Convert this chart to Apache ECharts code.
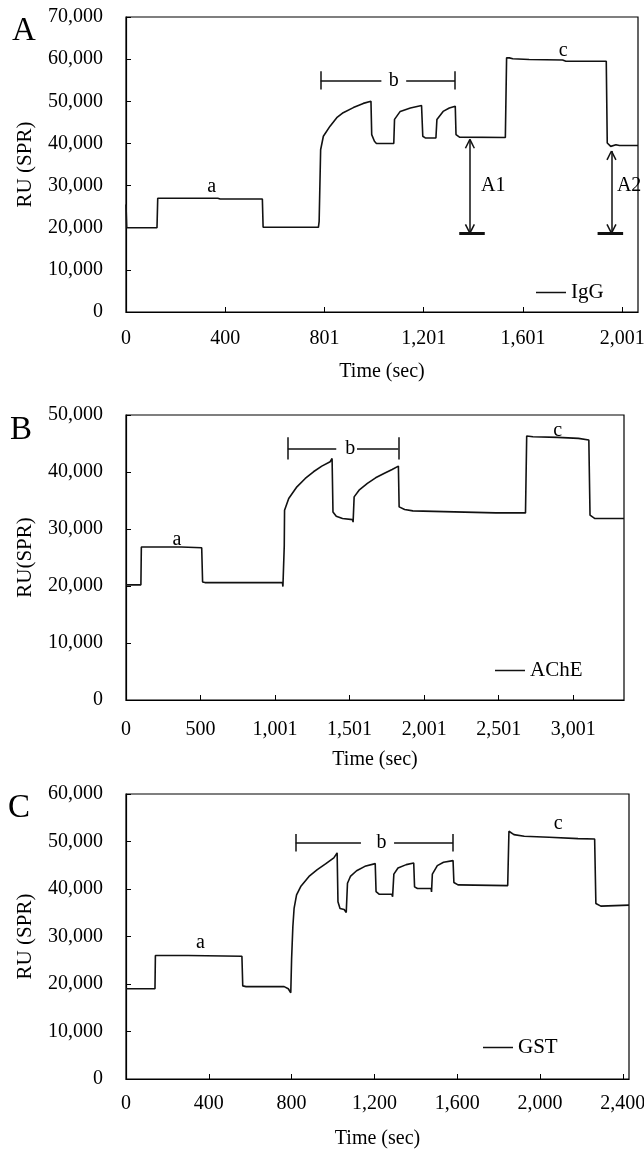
<!DOCTYPE html>
<html lang="en">
<head>
<meta charset="utf-8">
<title>SPR sensorgrams - IgG, AChE, GST</title>
<script src="https://cdn.jsdelivr.net/npm/echarts@6/dist/echarts.min.js"></script>
<style>
  html, body { margin: 0; padding: 0; background: #fff; }
  #main { width: 644px; height: 1153px; }
</style>
</head>
<body>
<div id="main"></div>
<script>
// ---- data (time in s, response in RU) ----
var iggCurve = [[0,25500],[3,20000],[125,20000],[128,27000],[370,27000],[380,26800],[550,26800],[553,20100],
  [776,20100],[779,21500],[785,38500],[796,41700],[823,44100],[850,46100],[876,47300],[917,48500],[957,49500],
  [988,50000],[991,42100],[1002,40500],[1010,40000],[1080,40000],[1083,45700],[1106,47600],[1147,48400],
  [1192,49000],[1197,41700],[1207,41300],[1250,41300],[1254,45700],[1279,47600],[1304,48400],[1328,48800],
  [1331,42100],[1345,41500],[1530,41400],[1535,60300],[1546,60300],[1560,60100],[1626,59900],[1761,59800],
  [1774,59500],[1937,59500],[1941,40100],[1955,39300],[1976,39700],[1990,39500],[2065,39500]];

var acheCurve = [[0,20200],[100,20200],[103,26850],[370,26850],[380,26700],[508,26700],[514,20700],[530,20600],
  [1050,20600],[1053,19900],[1062,27000],[1064,33300],[1092,35350],[1147,37400],[1203,38870],[1258,40040],
  [1314,41030],[1370,41800],[1383,42380],[1389,33000],[1411,32240],[1453,31830],[1520,31650],[1524,31200],
  [1531,35640],[1564,36810],[1620,37990],[1675,38980],[1731,39740],[1786,40450],[1828,41030],[1833,33880],
  [1870,33410],[1925,33180],[2203,33000],[2481,32830],[2681,32830],[2689,46310],[2731,46190],[2897,46080],
  [3036,45900],[3106,45610],[3114,32420],[3147,31830],[3342,31830]];

var gstCurve = [[0,19000],[140,19000],[142,26000],[300,26000],[560,25850],[564,19600],[580,19450],[764,19450],
  [784,19000],[796,18150],[800,25250],[806,32000],[812,35900],[824,38760],[844,40510],[884,42640],[924,44060],
  [964,45270],[1004,46540],[1020,47610],[1024,37320],[1034,35900],[1054,35680],[1064,35040],[1070,41220],
  [1084,42640],[1114,43850],[1154,44770],[1204,45340],[1208,39460],[1224,38890],[1284,38890],[1288,38390],
  [1294,43140],[1314,44420],[1354,45130],[1390,45490],[1394,40450],[1408,40100],[1474,40100],[1476,39390],
  [1480,43140],[1504,44920],[1534,45630],[1580,45980],[1584,41360],[1604,40860],[1844,40720],[1850,52160],
  [1874,51450],[1924,51100],[2044,50880],[2184,50600],[2264,50530],[2270,36960],[2294,36400],[2430,36610]];

// tick labels
var xLabelsA = ['0', '400', '801', '1,201', '1,601', '2,001'];
var xLabelsB = ['0', '500', '1,001', '1,501', '2,001', '2,501', '3,001'];
var xLabelsC = ['0', '400', '800', '1,200', '1,600', '2,000', '2,400'];

// annotations: segments [t1, v1, t2, v2], arrows [t, top, bottom], texts [label, t, v]
var iggSegs = [[785,54800,1030,54800],[1130,54800,1327,54800],[785,52800,785,57100],[1327,52800,1327,57100]];
var iggArrows = [[1387,40950,18700],[1958,38200,18700]];
var iggBars = [[1344,18650,1447,18650],[1902,18650,2005,18650]];
var iggTexts = [['a',346,29800],['b',1080,54800],['c',1763,62000]];
var iggSideTexts = [['A1',1430,29900],['A2',1978,29900]];

var acheSegs = [[1086,44140,1411,44140],[1550,44140,1828,44140],[1086,42200,1086,46100],[1828,42200,1828,46100]];
var acheTexts = [['a',342,28100],['b',1505,44140],['c',2897,47300]];

var gstSegs = [[820,49800,1135,49800],[1295,49800,1580,49800],[820,47900,820,51600],[1580,47900,1580,51600]];
var gstTexts = [['a',360,28600],['b',1234,49800],['c',2088,53700]];

var FONT = 'Liberation Serif';
var INK = '#111';

function pair(s, w) {
  return [{ coord: [s[0], s[1]], lineStyle: { width: w } }, { coord: [s[2], s[3]] }];
}

function arrowSegs(a) {
  var t = a[0], top = a[1], bot = a[2];
  return [[t, top, t, bot], [t - 18, top - 2100, t, top], [t + 18, top - 2100, t, top],
          [t - 18, bot + 2100, t, bot], [t + 18, bot + 2100, t, bot]];
}

function markLines(segs, bars) {
  var d = segs.map(function (s) { return pair(s, 1.5); });
  (bars || []).forEach(function (b) { d.push(pair(b, 3)); });
  return {
    silent: true, symbol: ['none', 'none'], animation: false,
    label: { show: false },
    lineStyle: { color: INK, width: 1.5, type: 'solid' },
    emphasis: { disabled: true },
    data: d
  };
}

function markTexts(texts, sideTexts) {
  var d = texts.map(function (x) { return { name: x[0], coord: [x[1], x[2]] }; });
  (sideTexts || []).forEach(function (x) {
    d.push({ name: x[0], coord: [x[1], x[2]], label: { position: 'right', distance: 0 } });
  });
  return {
    silent: true, symbol: 'rect', symbolSize: 1, animation: false,
    itemStyle: { color: 'rgba(0,0,0,0)' },
    label: { show: true, position: 'inside', formatter: '{b}', color: '#000', fontFamily: FONT, fontSize: 20 },
    data: d
  };
}

function xAxisFor(gi, max, step, labels, margin) {
  return {
    type: 'value', gridIndex: gi, min: 0, max: max, interval: step,
    name: 'Time (sec)', nameLocation: 'middle', nameGap: 50,
    nameTextStyle: { fontFamily: FONT, fontSize: 20, color: '#000' },
    axisLine: { lineStyle: { color: '#000', width: 1.2 } },
    axisTick: { inside: true, length: 5, lineStyle: { color: '#000' } },
    axisLabel: {
      margin: margin, fontFamily: FONT, fontSize: 20, color: '#000', showMaxLabel: false,
      formatter: function (v) {
        var k = Math.round(v / step);
        return (Math.abs(v - k * step) < 1e-6 && labels[k] !== undefined) ? labels[k] : '';
      }
    },
    splitLine: { show: false }
  };
}

function yAxisFor(gi, max, name) {
  return {
    type: 'value', gridIndex: gi, min: 0, max: max, interval: 10000,
    name: name, nameLocation: 'middle', nameGap: 90,
    nameTextStyle: { fontFamily: FONT, fontSize: 21, color: '#000' },
    axisLine: { show: true, lineStyle: { color: '#000', width: 1.2 } },
    axisTick: { show: true, inside: true, length: 5, lineStyle: { color: '#000' } },
    axisLabel: {
      margin: 23, fontFamily: FONT, fontSize: 20, color: '#000', padding: [5, 0, 0, 0],
      formatter: function (v) { return String(v).replace(/\B(?=(\d{3})+(?!\d))/g, ','); }
    },
    splitLine: { show: false }
  };
}

function legendFor(name, left, top) {
  return {
    data: [{ name: name, icon: 'rect' }], left: left, top: top,
    itemWidth: 30, itemHeight: 1.5, selectedMode: false,
    itemStyle: { color: INK, borderWidth: 0 },
    textStyle: { fontFamily: FONT, fontSize: 21, color: '#000' }
  };
}

function curve(name, gi, data, segs, bars, texts, sideTexts) {
  return {
    type: 'line', name: name, xAxisIndex: gi, yAxisIndex: gi, data: data,
    symbol: 'none', showSymbol: false, animation: false, silent: true,
    lineStyle: { color: INK, width: 1.6 }, itemStyle: { color: INK },
    markLine: markLines(segs, bars),
    markPoint: markTexts(texts, sideTexts)
  };
}

var chart = echarts.init(document.getElementById('main'), null, { renderer: 'canvas' });

var iggAll = iggSegs.slice();
iggArrows.forEach(function (a) { iggAll = iggAll.concat(arrowSegs(a)); });

var gridBase = { show: true, borderColor: '#000', borderWidth: 1.2, backgroundColor: 'transparent',
  containLabel: false, outerBoundsMode: 'none' };

chart.setOption({
  animation: false,
  backgroundColor: '#fff',
  grid: [
    Object.assign({ left: 126, top: 17, width: 512, height: 295 }, gridBase),
    Object.assign({ left: 126, top: 415, width: 498, height: 285 }, gridBase),
    Object.assign({ left: 126, top: 794, width: 503, height: 285 }, gridBase)
  ],
  xAxis: [
    xAxisFor(0, 2065, 400.25, xLabelsA, 17),
    xAxisFor(1, 3342, 500.2, xLabelsB, 20),
    xAxisFor(2, 2430, 400, xLabelsC, 15)
  ],
  yAxis: [
    yAxisFor(0, 70000, 'RU (SPR)'),
    yAxisFor(1, 50000, 'RU(SPR)'),
    yAxisFor(2, 60000, 'RU (SPR)')
  ],
  legend: [
    legendFor('IgG', 531, 277),
    legendFor('AChE', 490, 655),
    legendFor('GST', 478, 1032)
  ],
  graphic: [
    { type: 'text', left: 12, top: 15, style: { text: 'A', fontFamily: FONT, fontSize: 33, fill: '#000' } },
    { type: 'text', left: 10, top: 414, style: { text: 'B', fontFamily: FONT, fontSize: 33, fill: '#000' } },
    { type: 'text', left: 8, top: 792, style: { text: 'C', fontFamily: FONT, fontSize: 33, fill: '#000' } }
  ],
  series: [
    curve('IgG', 0, iggCurve, iggAll, iggBars, iggTexts, iggSideTexts),
    curve('AChE', 1, acheCurve, acheSegs, null, acheTexts, null),
    curve('GST', 2, gstCurve, gstSegs, null, gstTexts, null)
  ]
});

window.addEventListener('resize', function () { chart.resize(); });
</script>
</body>
</html>
